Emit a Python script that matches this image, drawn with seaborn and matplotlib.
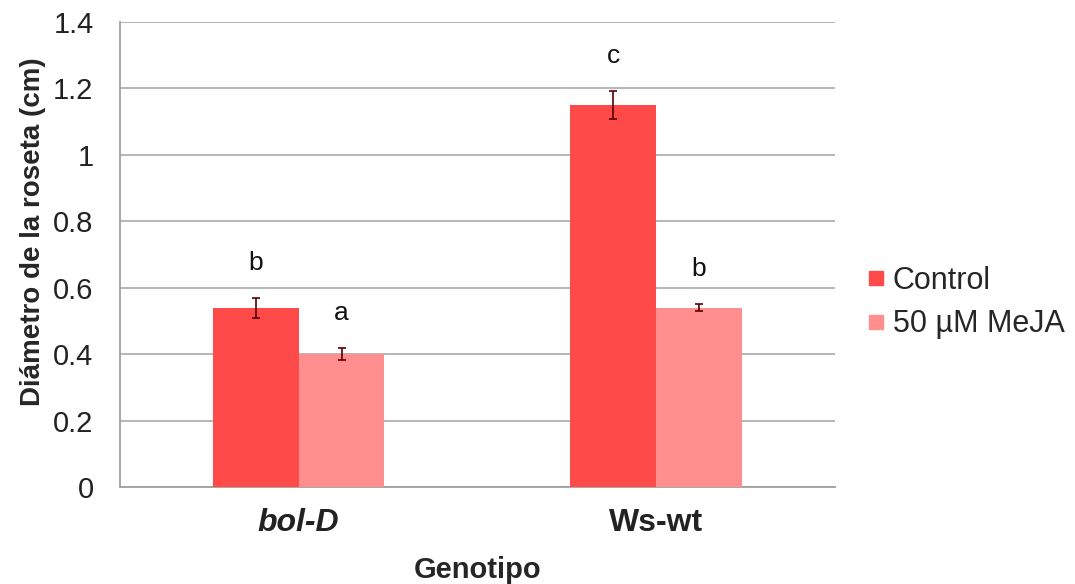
import matplotlib
matplotlib.use("Agg")
import matplotlib.pyplot as plt
import seaborn as sns
import pandas as pd

genotypes = ["bol-D", "Ws-wt"]
treatments = ["Control", "50 µM MeJA"]
control_vals = [0.54, 1.15]
meja_vals = [0.40, 0.54]
control_err = [0.03, 0.043]
meja_err = [0.018, 0.01]
control_letters = ["b", "c"]
meja_letters = ["a", "b"]

df = pd.DataFrame({
    "Genotipo": genotypes * 2,
    "Tratamiento": [treatments[0]] * 2 + [treatments[1]] * 2,
    "valor": control_vals + meja_vals,
})
errs = [control_err, meja_err]
letters = [control_letters, meja_letters]

sns.set_style("white")
plt.rcParams["font.family"] = ["Liberation Sans", "DejaVu Sans"]

fig = plt.figure(figsize=(10.75, 5.84), dpi=100)
ax = fig.add_axes([0.1116, 0.1661, 0.665, 0.7962])

palette = {treatments[0]: "#FF4A4A", treatments[1]: "#FF8E8E"}
sns.barplot(data=df, x="Genotipo", y="valor", hue="Tratamiento", order=genotypes,
            hue_order=treatments, palette=palette, width=0.48, gap=0,
            errorbar=None, saturation=1, ax=ax, zorder=3, linewidth=0)

bar_containers = list(ax.containers)
for ci, cont in enumerate(bar_containers):
    for bi, bar in enumerate(cont.patches):
        xc = bar.get_x() + bar.get_width() / 2
        h = bar.get_height()
        e = errs[ci][bi]
        ax.errorbar(xc, h, yerr=e, fmt="none", ecolor="#5a0000", elinewidth=1.2,
                    capsize=3, capthick=1.2, zorder=4)
        ax.text(xc, h + e + 0.105, letters[ci][bi], ha="center", va="center",
                fontsize=19, color="#111111")

ax.set_xlim(-0.5, 1.5)
ax.set_ylim(0, 1.4)
ax.set_yticks([0, 0.2, 0.4, 0.6, 0.8, 1.0, 1.2, 1.4])
ax.set_yticklabels(["0", "0.2", "0.4", "0.6", "0.8", "1", "1.2", "1.4"], fontsize=21)
ax.yaxis.grid(True, color="#b0b0b0", linewidth=1.3, zorder=0)
ax.set_axisbelow(True)
ax.tick_params(axis="both", length=0, colors="#222222")
ax.tick_params(axis="y", pad=19)
ax.set_xticks([0, 1])
ax.set_xticklabels(genotypes, fontsize=23, fontweight="bold")
ax.get_xticklabels()[0].set_fontstyle("italic")
ax.tick_params(axis="x", pad=15)

for s in ["top", "right"]:
    ax.spines[s].set_visible(False)
for s in ["left", "bottom"]:
    ax.spines[s].set_color("#a0a0a0")
    ax.spines[s].set_linewidth(1.3)

ax.set_ylabel("Diámetro de la roseta (cm)", fontsize=20, fontweight="bold")
ax.yaxis.set_label_coords(-0.103, 0.55)
ax.set_xlabel("Genotipo", fontsize=21, fontweight="bold", labelpad=13)

handles = [plt.Line2D([], [], marker="s", linestyle="none", markersize=10,
                      markerfacecolor=palette[t], markeredgecolor=palette[t]) for t in treatments]
ax.legend(handles, treatments, loc="center left", bbox_to_anchor=(1.0, 0.397),
          frameon=False, fontsize=22, handletextpad=0.1, labelspacing=0.45,
          handlelength=0.9)

fig.savefig("out.png", dpi=100)
